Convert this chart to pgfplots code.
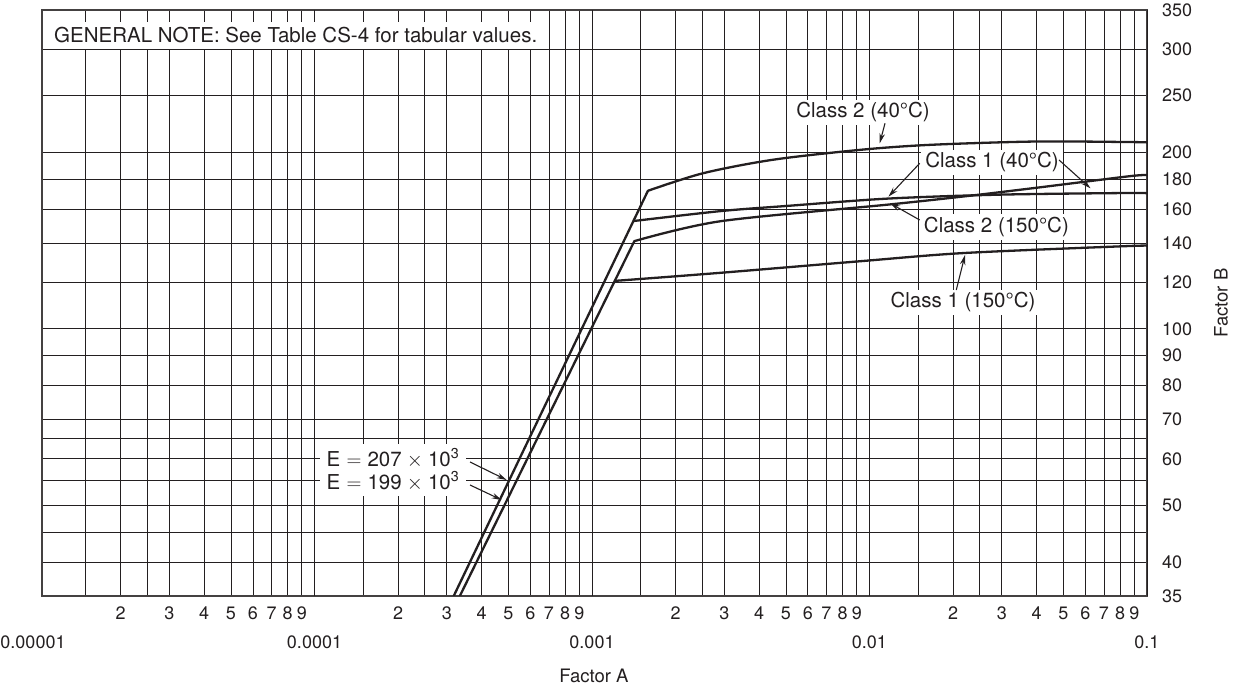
\documentclass[border=0pt]{standalone}
\usepackage{fontspec}
\setmainfont{TeX Gyre Heros}
\usepackage{pgfplots}
\pgfplotsset{compat=1.18}
\usetikzlibrary{arrows.meta}

\definecolor{ink}{HTML}{231F20}

\begin{document}
\begin{tikzpicture}[x=1bp,y=1bp,
  note/.style={fill=white, inner xsep=4bp, inner ysep=3bp, text=ink,
               font=\fontsize{20.5bp}{23bp}\selectfont},
  pointer/.style={draw=ink, line width=1.1bp, -{Stealth[length=10bp,width=5.5bp]}},
  curve/.style={draw=ink, line width=2.3bp, line join=round, line cap=round}]
\path[use as bounding box] (0,0) rectangle (1240,686);
\begin{axis}[
  at={(42bp,90bp)}, anchor=south west,
  scale only axis, width=1105bp, height=586bp,
  xmode=log, ymode=log,
  xmin=1.042e-5, xmax=0.1, ymin=35, ymax=350,
  axis line style={draw=ink!85, line width=1.3bp},
  major tick length=0pt, minor tick length=0pt,
  grid=major, grid style={draw=ink, line width=0.9bp},
  tick label style={text=ink, font=\fontsize{18bp}{20bp}\selectfont},
  xtick={1.5e-5,2e-5,2.5e-5,3e-5,4e-5,5e-5,6e-5,7e-5,8e-5,9e-5,
         1.5e-4,2e-4,2.5e-4,3e-4,4e-4,5e-4,6e-4,7e-4,8e-4,9e-4,
         1.5e-3,2e-3,2.5e-3,3e-3,4e-3,5e-3,6e-3,7e-3,8e-3,9e-3,
         1.5e-2,2e-2,2.5e-2,3e-2,4e-2,5e-2,6e-2,7e-2,8e-2,9e-2},
  xticklabels={,2,,3,4,5,6,7,8,9,
               ,2,,3,4,5,6,7,8,9,
               ,2,,3,4,5,6,7,8,9,
               ,2,,3,4,5,6,7,8,9},
  xticklabel style={anchor=north, inner sep=0pt, yshift=-10.6bp},
  extra x ticks={1e-4,1e-3,1e-2,1e-1},
  extra x tick labels={0.0001,0.001,0.01,0.1},
  extra x tick style={grid=major, xticklabel style={yshift=-29.4bp}},
  ytick={35,40,45,50,55,60,65,70,80,90,100,120,140,160,180,200,250,300,350},
  yticklabels={35,40,,50,,60,,70,80,90,100,120,140,160,180,200,250,300,350},
  yticklabel pos=right,
  yticklabel style={anchor=west, inner sep=0pt, xshift=15bp},
]
% elastic line E = 207 x 10^3 with the two 40 C curves
\addplot[curve] coordinates {(3.175e-4,35) (1.41e-3,152.7) (1.591e-3,172.0)};
\addplot[curve, smooth, tension=0.5] coordinates {
  (1.591e-3,172.0) (2.516e-3,184.3) (4.487e-3,194.3) (9.26e-3,202.0)
  (0.01652,206.0) (0.03942,208.7) (0.0854,208.3) (0.1,208.0)};
\addplot[curve, smooth, tension=0.5] coordinates {
  (1.41e-3,152.7) (2.907e-3,158.8) (5.0e-3,162.0) (0.01167,166.8)
  (0.02946,169.4) (0.0854,170.5) (0.1,170.3)};
% elastic line E = 199 x 10^3 with the two 150 C curves
\addplot[curve] coordinates {(3.34e-4,35) (1.208e-3,120.7) (1.421e-3,141.1)};
\addplot[curve, smooth, tension=0.5] coordinates {
  (1.421e-3,141.1) (2.907e-3,152.6) (0.01167,162.9) (0.02208,168.3)
  (0.03942,173.9) (0.0854,182.0) (0.1,183.0)};
\addplot[curve, smooth, tension=0.5] coordinates {
  (1.208e-3,120.7) (2.907e-3,124.6) (9.26e-3,130.4) (0.02208,134.7)
  (0.0854,138.4) (0.1,138.5)};
\end{axis}

% axis titles and the first decade label
\node[text=ink, font=\fontsize{18bp}{20bp}\selectfont] at (33,43.5) {0.00001};
\node[text=ink, font=\fontsize{18.5bp}{21bp}\selectfont] at (594,10) {Factor A};
\node[text=ink, font=\fontsize{18.5bp}{21bp}\selectfont, rotate=90] at (1221,383) {Factor B};

% notes and curve callouts
\node[note, anchor=west, minimum height=27bp, inner ysep=0pt] at (50,650.5)
  {GENERAL NOTE: See Table CS-4 for tabular values.};

\node[note] at (863,573.5) {Class 2 (40°C)};
\draw[pointer] (885,562.7) -- (879.7,542.7);

\node[note] at (992,523.5) {Class 1 (40°C)};
\draw[pointer] (919.7,522.7) -- (888.4,489.3);
\draw[pointer] (1059,526) -- (1090.5,497.7);

\node[note] at (996.4,459.3) {Class 2 (150°C)};
\draw[pointer] (919.7,466) -- (890.1,482.7);

\node[note] at (963,383.5) {Class 1 (150°C)};
\draw[pointer] (956.3,396) -- (965,431);

\node[note, align=left, inner xsep=7bp, inner ysep=5bp] at (393,216)
  {E\hspace{0.3em}$=$\hspace{0.3em}207\hspace{0.25em}$\times$\hspace{0.25em}10\textsuperscript{3}\\
   E\hspace{0.3em}$=$\hspace{0.3em}199\hspace{0.25em}$\times$\hspace{0.25em}10\textsuperscript{3}};
\draw[pointer] (470,224) -- (506.7,206);
\draw[pointer] (470,201) -- (501.7,186);
\end{tikzpicture}
\end{document}
